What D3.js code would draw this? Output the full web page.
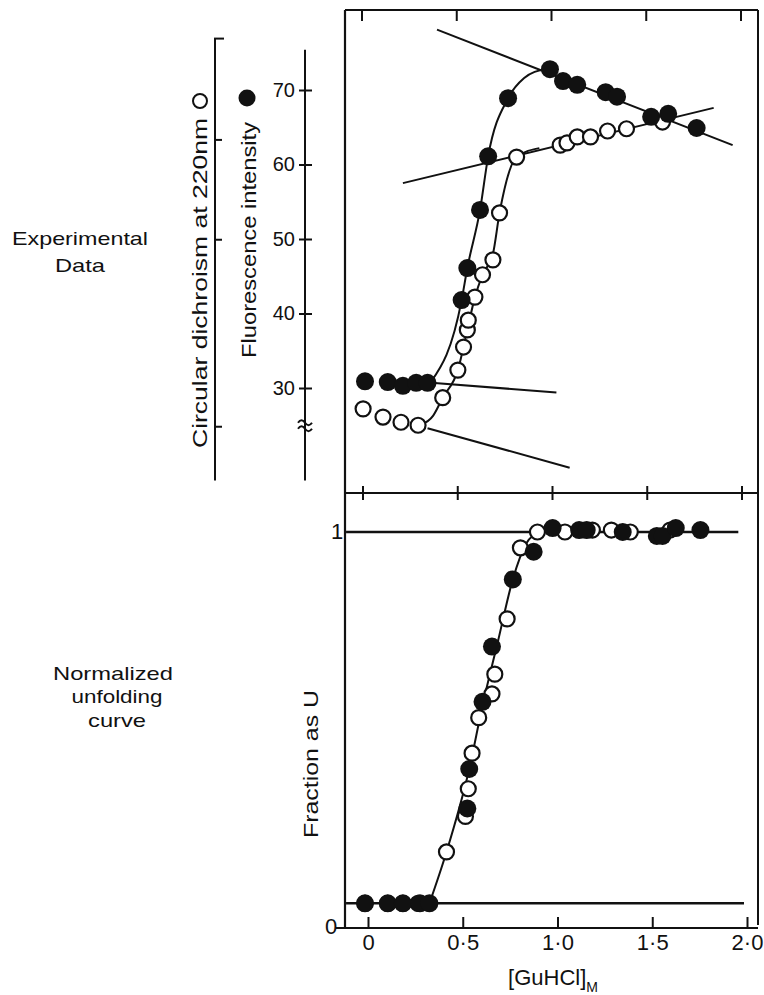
<!DOCTYPE html>
<html lang="en">
<head>
<meta charset="UTF-8">
<title>GuHCl unfolding</title>
<script src="https://cdn.jsdelivr.net/npm/d3@7/dist/d3.min.js"></script>
<style>
  body { margin: 0; background: #fff; }
  text { font-family: "Liberation Sans", Arial, sans-serif; fill: #111; }
</style>
</head>
<body>
<script>
// [GuHCl] (M) and readings, top panel: fluorescence (filled) and CD (open)
var fluorX = [0.0, 0.12, 0.2, 0.27, 0.33, 0.51, 0.54, 0.607, 0.65, 0.755, 0.976, 1.045, 1.12, 1.27, 1.33, 1.51, 1.60, 1.75]
var fluorY = [30.9, 30.8, 30.3, 30.7, 30.7, 41.8, 46.1, 53.9, 61.1, 68.9, 72.8, 71.2, 70.7, 69.7, 69.1, 66.4, 66.8, 64.9]
// CD has no printed scale; values are read against the fluorescence grid
var cdX = [-0.01, 0.095, 0.19, 0.28, 0.41, 0.49, 0.52, 0.54, 0.545, 0.58, 0.62, 0.675, 0.71, 0.80, 1.03, 1.066, 1.12, 1.19, 1.28, 1.38, 1.57]
var cdY = [27.2, 26.1, 25.4, 25.0, 28.7, 32.4, 35.5, 37.8, 39.1, 42.2, 45.2, 47.2, 53.5, 61.0, 62.6, 62.9, 63.7, 63.7, 64.5, 64.8, 65.7]

// hand-drawn fits through the top panel points
var fluorFitX = [0.35, 0.51, 0.54, 0.607, 0.65, 0.755, 0.84, 0.95]
var fluorFitY = [30.9, 41.8, 46.1, 53.9, 61.1, 68.9, 71.6, 72.8]
var cdFitX = [0.29, 0.36, 0.41, 0.49, 0.54, 0.58, 0.62, 0.675, 0.71, 0.80, 0.92]
var cdFitY = [25.0, 26.3, 28.7, 32.4, 37.8, 42.2, 45.2, 48.0, 53.5, 61.0, 62.2]

// straight baselines [x1, y1, x2, y2]
var fluorNative = [0.35, 30.7, 1.01, 29.4]
var cdNative = [0.33, 24.6, 1.08, 19.3]
var fluorUnfolded = [0.38, 78.1, 1.94, 62.6]
var cdUnfolded = [0.2, 57.5, 1.84, 67.6]

// bottom panel: fraction unfolded
var fracFilledX = [0.0, 0.12, 0.2, 0.29, 0.34, 0.54, 0.55, 0.62, 0.67, 0.78, 0.89, 0.99, 1.13, 1.17, 1.36, 1.54, 1.57, 1.64, 1.77]
var fracFilledY = [0.06, 0.06, 0.06, 0.06, 0.06, 0.30, 0.40, 0.57, 0.71, 0.88, 0.95, 1.01, 1.005, 1.005, 1.0, 0.99, 0.99, 1.01, 1.005]
var fracOpenX = [0.0, 0.12, 0.2, 0.28, 0.43, 0.53, 0.545, 0.565, 0.60, 0.67, 0.685, 0.75, 0.82, 0.91, 1.055, 1.20, 1.30, 1.40, 1.61]
var fracOpenY = [0.06, 0.06, 0.06, 0.06, 0.19, 0.28, 0.35, 0.44, 0.53, 0.59, 0.64, 0.78, 0.96, 1.0, 1.0, 1.005, 1.005, 1.0, 1.005]
var fracFitX = [0.34, 0.43, 0.55, 0.62, 0.70, 0.78, 0.85, 0.92]
var fracFitY = [0.06, 0.19, 0.40, 0.56, 0.72, 0.88, 0.97, 1.0]
var fracUpper = [-0.1, 1.0, 1.97, 1.0]
var fracLower = [-0.1, 0.06, 2.0, 0.06]

// axes
var xTicks = [0, 0.5, 1.0, 1.5, 2.0]
var fluorTicks = [30, 40, 50, 60, 70]
var cdTicks = [63.3, 49.9, 24.8]
var fracTicks = [0, 1]

var width = 764
var height = 995

var svg = d3.select('body').append('svg')
    .attr('width', width)
    .attr('height', height)

var x = d3.scaleLinear().domain([0, 2]).range([365, 744])
var yF = d3.scaleLinear().domain([30, 70]).range([388, 90])
var yCD = yF.copy()
var yU = d3.scaleLinear().domain([0, 1]).range([927, 532])

var frameL = 345, frameR = 758, frameT = 10, frameM = 493, frameB = 928

function seg(g, x1, y1, x2, y2, w) {
    g.append('line')
        .attr('x1', x1).attr('y1', y1).attr('x2', x2).attr('y2', y2)
        .attr('stroke', '#111').attr('stroke-width', w || 2)
}

function zip(xs, ys) {
    return xs.map(function (v, i) { return [v, ys[i]] })
}

// text squeezed or stretched to the width seen in the figure
function label(tx, ty, rot, size, len, s, anchor) {
    return svg.append('text')
        .attr('transform', 'translate(' + tx + ',' + ty + ')' + (rot ? ' rotate(' + rot + ')' : ''))
        .attr('font-size', size)
        .attr('text-anchor', anchor || 'start')
        .attr('textLength', len)
        .attr('lengthAdjust', 'spacingAndGlyphs')
        .text(s)
}

// frame
var frame = svg.append('g')
seg(frame, frameL, frameT, frameL, frameB, 2.2)
seg(frame, frameR, frameT, frameR, frameB - 3, 2)
seg(frame, frameL, frameT, frameR, frameT, 2)
seg(frame, frameL, frameM, frameR, frameM, 2.2)
xTicks.forEach(function (t) {
    seg(frame, x(t) - 3, frameT, x(t) - 3, frameT + 11, 2)
    seg(frame, x(t) - 2, frameM - 7, x(t) - 2, frameM + 7, 2)
})

// bottom x axis
var xAxis = d3.axisBottom(x)
    .tickValues(xTicks)
    .tickSize(-11)
    .tickPadding(6)
    .tickFormat(function (d) { return d === 0 ? '0' : d3.format('.1f')(d).replace('.', '\u00b7') })

var gx = svg.append('g')
    .attr('transform', 'translate(3,' + frameB + ')')
    .call(xAxis)
gx.select('.domain').remove()
gx.selectAll('.tick line').attr('stroke', '#111').attr('stroke-width', 2)
gx.selectAll('.tick text').attr('font-size', 22).attr('fill', '#111')
    .style('font-family', '"Liberation Sans", Arial, sans-serif')
seg(svg, 336, frameB, frameR, frameB, 2.2)

var xl = svg.append('text')
    .attr('x', 553).attr('y', 985)
    .attr('text-anchor', 'middle')
    .attr('font-size', 22)
xl.append('tspan').text('[GuHCl]')
xl.append('tspan').attr('font-size', 14).attr('dy', 7).text('M')

// fluorescence axis
var fAxis = d3.axisLeft(yF)
    .tickValues(fluorTicks)
    .tickSize(6)
    .tickPadding(4)
var gf = svg.append('g')
    .attr('transform', 'translate(305,0)')
    .call(fAxis)
gf.select('.domain').remove()
gf.selectAll('.tick line').attr('x1', 7).attr('stroke', '#111').attr('stroke-width', 2)
gf.selectAll('.tick text').attr('font-size', 20).attr('fill', '#111')
    .style('font-family', '"Liberation Sans", Arial, sans-serif')
seg(svg, 305, yF(75.4), 305, yF(17.6), 2)

// axis break
;[-3, 3].forEach(function (o) {
    var yb = yF(25.2) + o
    svg.append('path')
        .attr('d', 'M298,' + (yb + 2) + ' q3.5,-5 7,0 t7,0')
        .attr('fill', 'none').attr('stroke', '#111').attr('stroke-width', 2)
})

label(256, 358, -90, 20, 236, 'Fluorescence intensity')
svg.append('circle')
    .attr('cx', 247).attr('cy', 98).attr('r', 8.5).attr('fill', '#111')

// CD axis (no printed values)
seg(svg, 215, yCD(76.9), 215, yCD(17.6), 2)
seg(svg, 214, yCD(76.9), 224, yCD(76.9), 2)
cdTicks.forEach(function (t) { seg(svg, 215, yCD(t), 222, yCD(t), 2) })

label(207, 448, -90, 20, 330, 'Circular dichroism at 220nm')
svg.append('circle')
    .attr('cx', 200).attr('cy', 101).attr('r', 7).attr('fill', '#fff')
    .attr('stroke', '#111').attr('stroke-width', 2)

// side captions
label(80, 245, 0, 19, 136, 'Experimental', 'middle')
label(80, 272, 0, 19, 50, 'Data', 'middle')
label(113, 680, 0, 19, 120, 'Normalized', 'middle')
label(117, 703, 0, 19, 91, 'unfolding', 'middle')
label(117, 727, 0, 19, 58, 'curve', 'middle')

// fraction axis labels
label(318, 764, -90, 20, 148, 'Fraction as U', 'middle')
svg.selectAll('.fracTick').data(fracTicks).enter().append('text')
    .attr('class', 'fracTick')
    .attr('x', function (d) { return d === 0 ? 331 : 337 })
    .attr('y', function (d) { return yU(d) + 7 })
    .attr('text-anchor', 'middle')
    .attr('font-size', 22)
    .text(function (d) { return d })

// lines
var lineF = d3.line().x(function (d) { return x(d[0]) }).y(function (d) { return yF(d[1]) })
var lineCD = d3.line().x(function (d) { return x(d[0]) }).y(function (d) { return yCD(d[1]) })
var lineU = d3.line().x(function (d) { return x(d[0]) }).y(function (d) { return yU(d[1]) })
var curveF = d3.line().curve(d3.curveMonotoneX).x(function (d) { return x(d[0]) }).y(function (d) { return yF(d[1]) })
var curveCD = d3.line().curve(d3.curveMonotoneX).x(function (d) { return x(d[0]) }).y(function (d) { return yCD(d[1]) })
var curveU = d3.line().curve(d3.curveMonotoneX).x(function (d) { return x(d[0]) }).y(function (d) { return yU(d[1]) })

function base(gen, b) { return gen([[b[0], b[1]], [b[2], b[3]]]) }

var lines = svg.append('g').attr('fill', 'none').attr('stroke', '#111').attr('stroke-width', 2)
lines.append('path').attr('d', base(lineF, fluorNative))
lines.append('path').attr('d', base(lineCD, cdNative))
lines.append('path').attr('d', base(lineF, fluorUnfolded))
lines.append('path').attr('d', base(lineCD, cdUnfolded))
lines.append('path').attr('d', curveF(zip(fluorFitX, fluorFitY)))
lines.append('path').attr('d', curveCD(zip(cdFitX, cdFitY)))
lines.append('path').attr('d', base(lineU, fracUpper)).attr('stroke-width', 2.4)
lines.append('path').attr('d', base(lineU, fracLower)).attr('stroke-width', 2.4)
lines.append('path').attr('d', curveU(zip(fracFitX, fracFitY)))

// markers
function openDots(data, sy) {
    svg.append('g').selectAll('circle').data(data).enter().append('circle')
        .attr('cx', function (d) { return x(d[0]) })
        .attr('cy', function (d) { return sy(d[1]) })
        .attr('r', 7.5)
        .attr('fill', '#fff').attr('stroke', '#111').attr('stroke-width', 2.2)
}
function filledDots(data, sy) {
    svg.append('g').selectAll('circle').data(data).enter().append('circle')
        .attr('cx', function (d) { return x(d[0]) })
        .attr('cy', function (d) { return sy(d[1]) })
        .attr('r', 9)
        .attr('fill', '#111')
}

openDots(zip(cdX, cdY), yCD)
filledDots(zip(fluorX, fluorY), yF)
openDots(zip(fracOpenX, fracOpenY), yU)
filledDots(zip(fracFilledX, fracFilledY), yU)
</script>
</body>
</html>
